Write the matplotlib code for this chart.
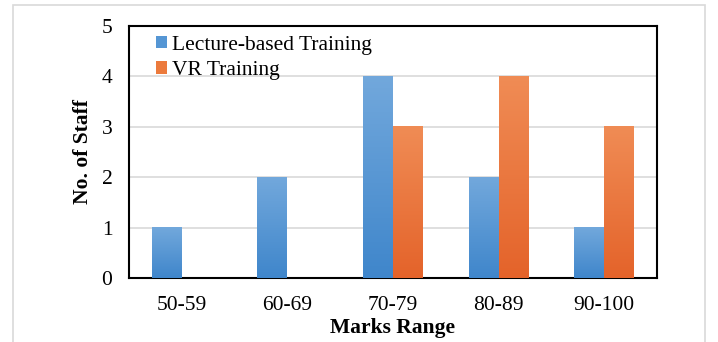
import matplotlib.pyplot as plt
import numpy as np
from matplotlib.patches import Rectangle
from matplotlib.colors import LinearSegmentedColormap

# Data
ranges = ['50-59', '60-69', '70-79', '80-89', '90-100']
lecture = [1, 2, 4, 2, 1]
vr = [0, 0, 3, 4, 3]
series_names = ['Lecture-based Training', 'VR Training']

plt.rcParams['font.family'] = 'Liberation Serif'

fig = plt.figure(figsize=(7.18, 3.42), dpi=100)
ax = fig.add_axes([129 / 718, 1 - 278 / 342, 528 / 718, 252 / 342])

# light outer frame like the source image
fig.patches.append(Rectangle((13 / 718, -0.1), 692 / 718, 1.1 - 5 / 342,
                             transform=fig.transFigure, fill=False,
                             edgecolor='#d9d9d9', linewidth=1.2))

x = np.arange(len(ranges))
width = 0.284
blue_cmap = LinearSegmentedColormap.from_list('b', ['#3f86cb', '#72a8dc'])
orange_cmap = LinearSegmentedColormap.from_list('o', ['#e4632a', '#f08c55'])

grad = np.linspace(0, 1, 256).reshape(-1, 1)
b1 = ax.bar(x - width / 2, lecture, width, color='#5596d4', label=series_names[0], zorder=2)
b2 = ax.bar(x + width / 2, vr, width, color='#ec7a3c', label=series_names[1], zorder=2)

# gradient fill on each bar
for bars, cmap in [(b1, blue_cmap), (b2, orange_cmap)]:
    for rect in bars:
        h = rect.get_height()
        if h <= 0:
            continue
        x0 = rect.get_x()
        ax.imshow(grad, extent=[x0, x0 + rect.get_width(), 0, h], origin='lower',
                  cmap=cmap, aspect='auto', zorder=3)

ax.set_xlim(-0.5, len(ranges) - 0.5)
ax.set_ylim(0, 5)
ax.set_xticks(x)
ax.set_xticklabels(ranges, fontsize=15.5)
ax.set_yticks(range(6))
ax.tick_params(axis='y', labelsize=15.5, length=0, pad=12)
ax.tick_params(axis='x', length=0, pad=13)
ax.yaxis.grid(True, color='#d9d9d9', linewidth=1.2, zorder=0)
ax.set_axisbelow(True)
for s in ax.spines.values():
    s.set_linewidth(1.5)
    s.set_color('black')

ax.set_xlabel('Marks Range', fontsize=15.5, fontweight='bold', labelpad=2)
ax.set_ylabel('No. of Staff', fontsize=15.5, fontweight='bold', labelpad=6)

leg = ax.legend(loc='upper left', frameon=False, fontsize=15.5, handlelength=0.5,
                handleheight=0.5, handletextpad=0.25, labelspacing=0.3,
                borderaxespad=0.0, borderpad=0.45, bbox_to_anchor=(0.033, 1.0))

fig.savefig('out.png', dpi=100)
